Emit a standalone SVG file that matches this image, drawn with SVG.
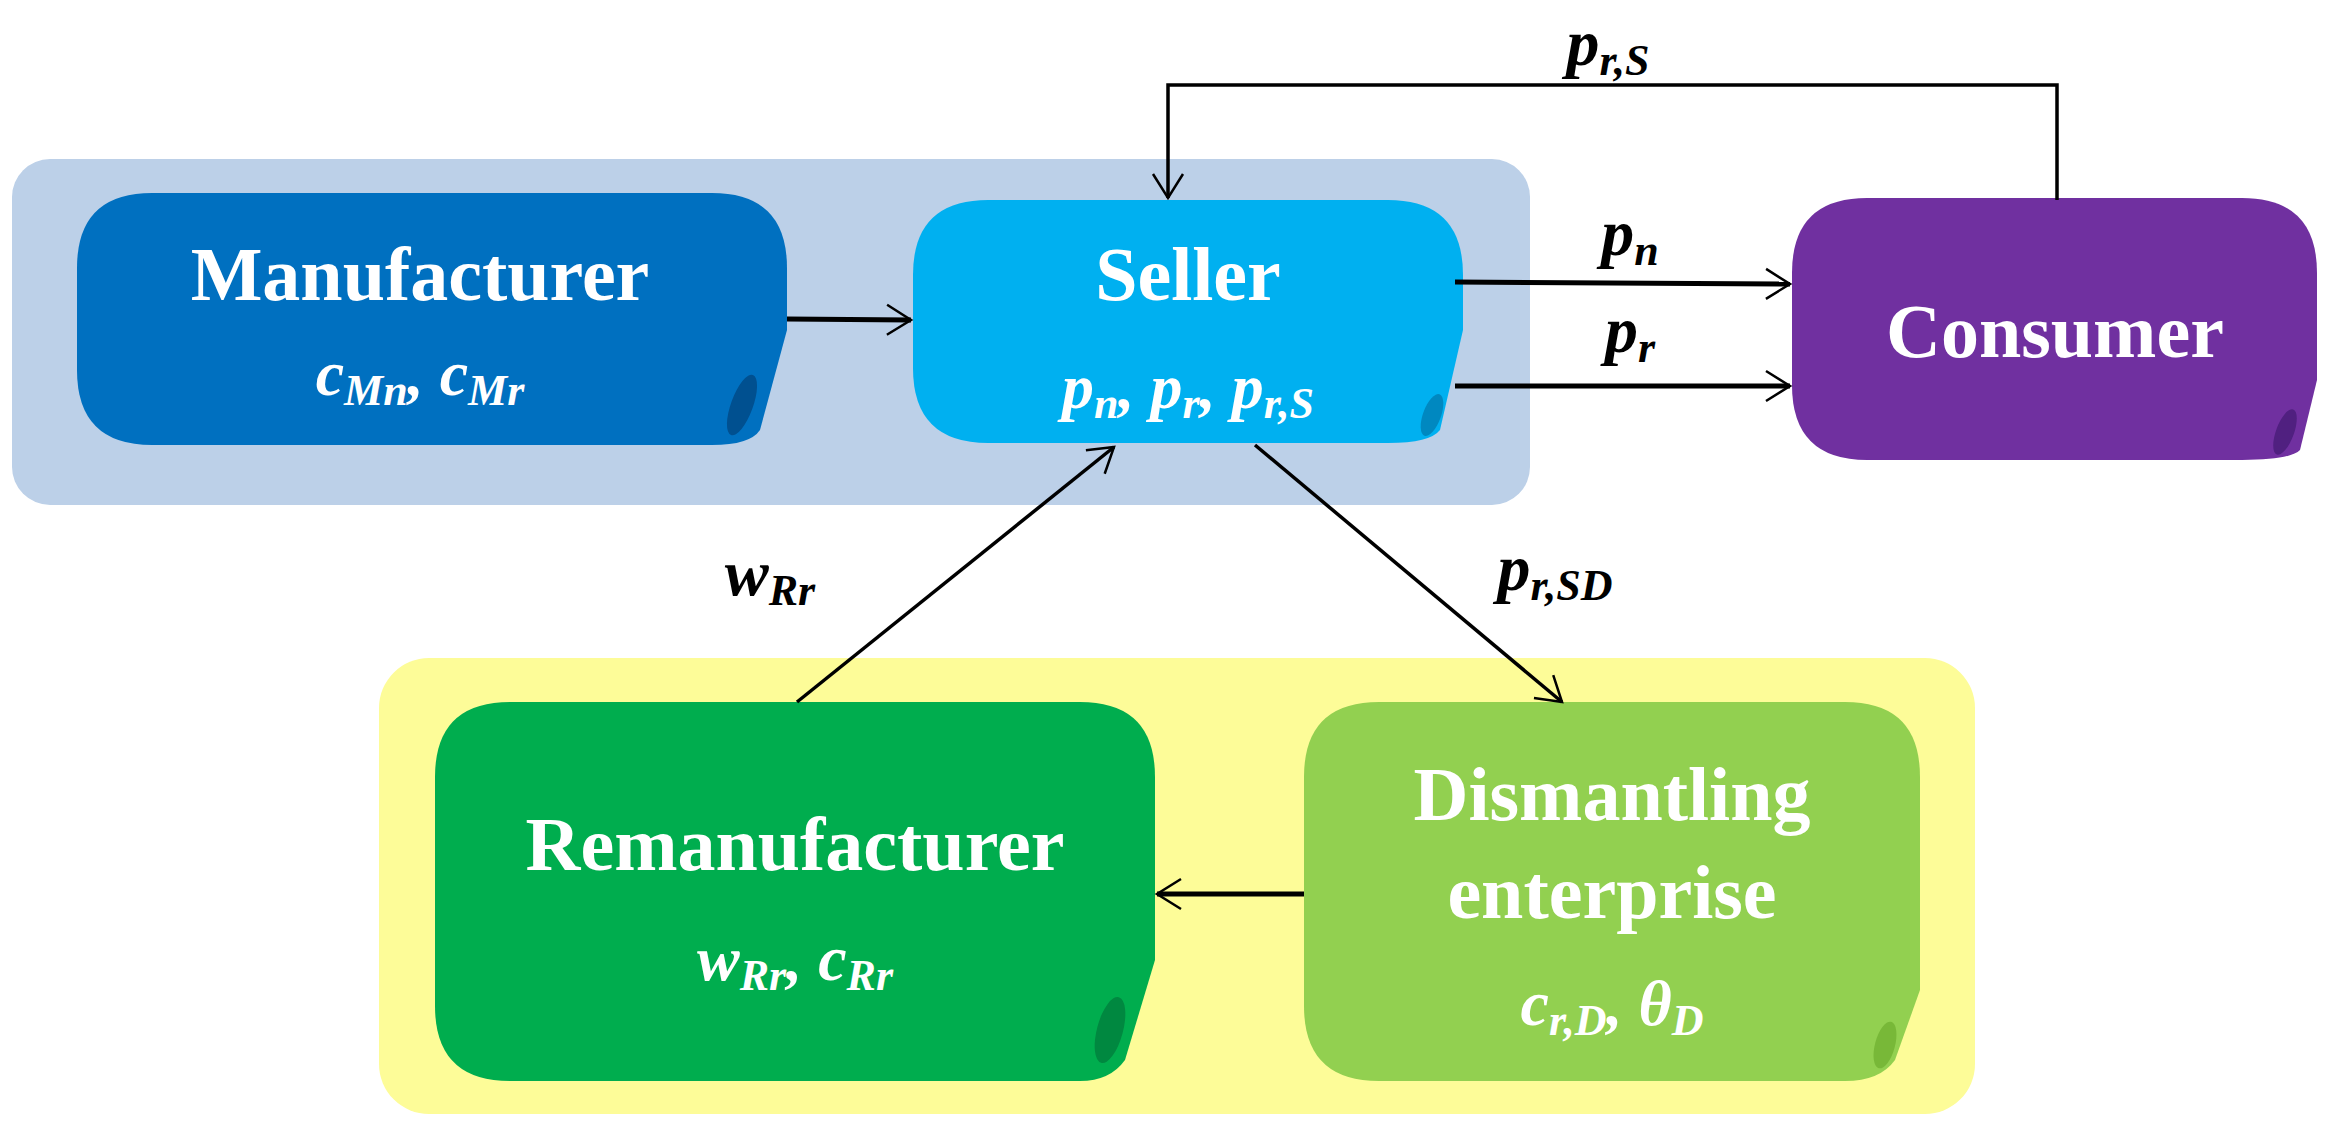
<svg xmlns="http://www.w3.org/2000/svg" width="2329" height="1143" viewBox="0 0 2329 1143">
<defs>
<style>
.t{font-family:"Liberation Serif","Times New Roman",serif;font-weight:bold;fill:#fff;text-anchor:middle}
.n{font-size:76px}
.p{font-size:64px;font-style:italic}
.l{font-family:"Liberation Serif","Times New Roman",serif;font-weight:bold;font-style:italic;fill:#000;font-size:66px;text-anchor:middle}
.c{stroke:#000;stroke-width:5;fill:none}
.thin{stroke:#000;stroke-width:3.5;fill:none}
</style>
<marker id="a" viewBox="0 0 20 20" refX="18" refY="10" markerWidth="10" markerHeight="10" markerUnits="userSpaceOnUse" orient="auto" overflow="visible">
<path d="M-30,-20 L18,10 L-30,40" stroke="#000" stroke-width="5" fill="none"/>
</marker>
</defs>
<rect x="12" y="159" width="1518" height="346" rx="38" fill="#bcd0e8"/>
<rect x="379" y="658" width="1596" height="456" rx="50" fill="#fdfc98"/>

<g id="manufacturer">
<path d="M152,193 H712 Q787,193 787,268 V330 L760,430 Q750,445 712,445 H152 Q77,445 77,370 V268 Q77,193 152,193 Z" fill="#0070c0"/>
<ellipse cx="742" cy="405" rx="11" ry="32" transform="rotate(20 742 405)" fill="#005090"/>
<text class="t n" x="420" y="300">Manufacturer</text>
<text class="t p" x="420" y="395">c<tspan font-size="44" dy="10">Mn</tspan><tspan dy="-10">, c</tspan><tspan font-size="44" dy="10">Mr</tspan></text>
</g>

<g id="seller">
<path d="M988,200 H1388 Q1463,200 1463,275 V330 L1440,430 Q1430,443 1388,443 H988 Q913,443 913,368 V275 Q913,200 988,200 Z" fill="#00b0f0"/>
<ellipse cx="1432" cy="415" rx="9" ry="22" transform="rotate(20 1432 415)" fill="#0088c0"/>
<text class="t n" x="1188" y="300">Seller</text>
<text class="t p" x="1188" y="408">p<tspan font-size="44" dy="10">n</tspan><tspan dy="-10">, p</tspan><tspan font-size="44" dy="10">r</tspan><tspan dy="-10">, p</tspan><tspan font-size="44" dy="10">r,S</tspan></text>
</g>

<g id="consumer">
<path d="M1867,198 H2242 Q2317,198 2317,273 V380 L2300,450 Q2290,460 2242,460 H1867 Q1792,460 1792,385 V273 Q1792,198 1867,198 Z" fill="#7030a0"/>
<ellipse cx="2285" cy="432" rx="9" ry="24" transform="rotate(20 2285 432)" fill="#502080"/>
<text class="t n" x="2055" y="357">Consumer</text>
</g>

<g id="remanufacturer">
<path d="M510,702 H1080 Q1155,702 1155,777 V960 L1125,1060 Q1110,1081 1080,1081 H510 Q435,1081 435,1006 V777 Q435,702 510,702 Z" fill="#00ad4e"/>
<ellipse cx="1110" cy="1030" rx="13" ry="34" transform="rotate(15 1110 1030)" fill="#008840"/>
<text class="t n" x="795" y="870">Remanufacturer</text>
<text class="t p" x="795" y="980">w<tspan font-size="44" dy="10">Rr</tspan><tspan dy="-10">, c</tspan><tspan font-size="44" dy="10">Rr</tspan></text>
</g>

<g id="dismantling">
<path d="M1379,702 H1845 Q1920,702 1920,777 V990 L1895,1060 Q1880,1081 1845,1081 H1379 Q1304,1081 1304,1006 V777 Q1304,702 1379,702 Z" fill="#92d050"/>
<ellipse cx="1885" cy="1045" rx="10" ry="24" transform="rotate(15 1885 1045)" fill="#78b838"/>
<text class="t n" x="1612" y="820">Dismantling</text>
<text class="t n" x="1612" y="918">enterprise</text>
<text class="t p" x="1612" y="1025">c<tspan font-size="44" dy="10">r,D</tspan><tspan dy="-10">, θ</tspan><tspan font-size="44" dy="10">D</tspan></text>
</g>

<g id="connectors">
<line class="c" x1="787" y1="319" x2="911" y2="320" marker-end="url(#a)"/>
<line class="c" x1="1455" y1="282" x2="1790" y2="284" marker-end="url(#a)"/>
<line class="c" x1="1455" y1="386" x2="1790" y2="386" marker-end="url(#a)"/>
<polyline class="thin" points="2057,200 2057,85 1168,85 1168,198" marker-end="url(#a)"/>
<line class="thin" x1="1255" y1="445" x2="1562" y2="702" marker-end="url(#a)"/>
<line class="thin" x1="797" y1="702" x2="1114" y2="447" marker-end="url(#a)"/>
<line class="c" x1="1304" y1="894" x2="1157" y2="894" marker-end="url(#a)"/>
<text class="l" x="1608" y="65">p<tspan font-size="44" dy="10">r,S</tspan></text>
<text class="l" x="1630" y="255">p<tspan font-size="44" dy="10">n</tspan></text>
<text class="l" x="1630" y="352">p<tspan font-size="44" dy="10">r</tspan></text>
<text class="l" x="1555" y="590">p<tspan font-size="44" dy="10">r,SD</tspan></text>
<text class="l" x="770" y="595">w<tspan font-size="44" dy="10">Rr</tspan></text>
</g>
</svg>
